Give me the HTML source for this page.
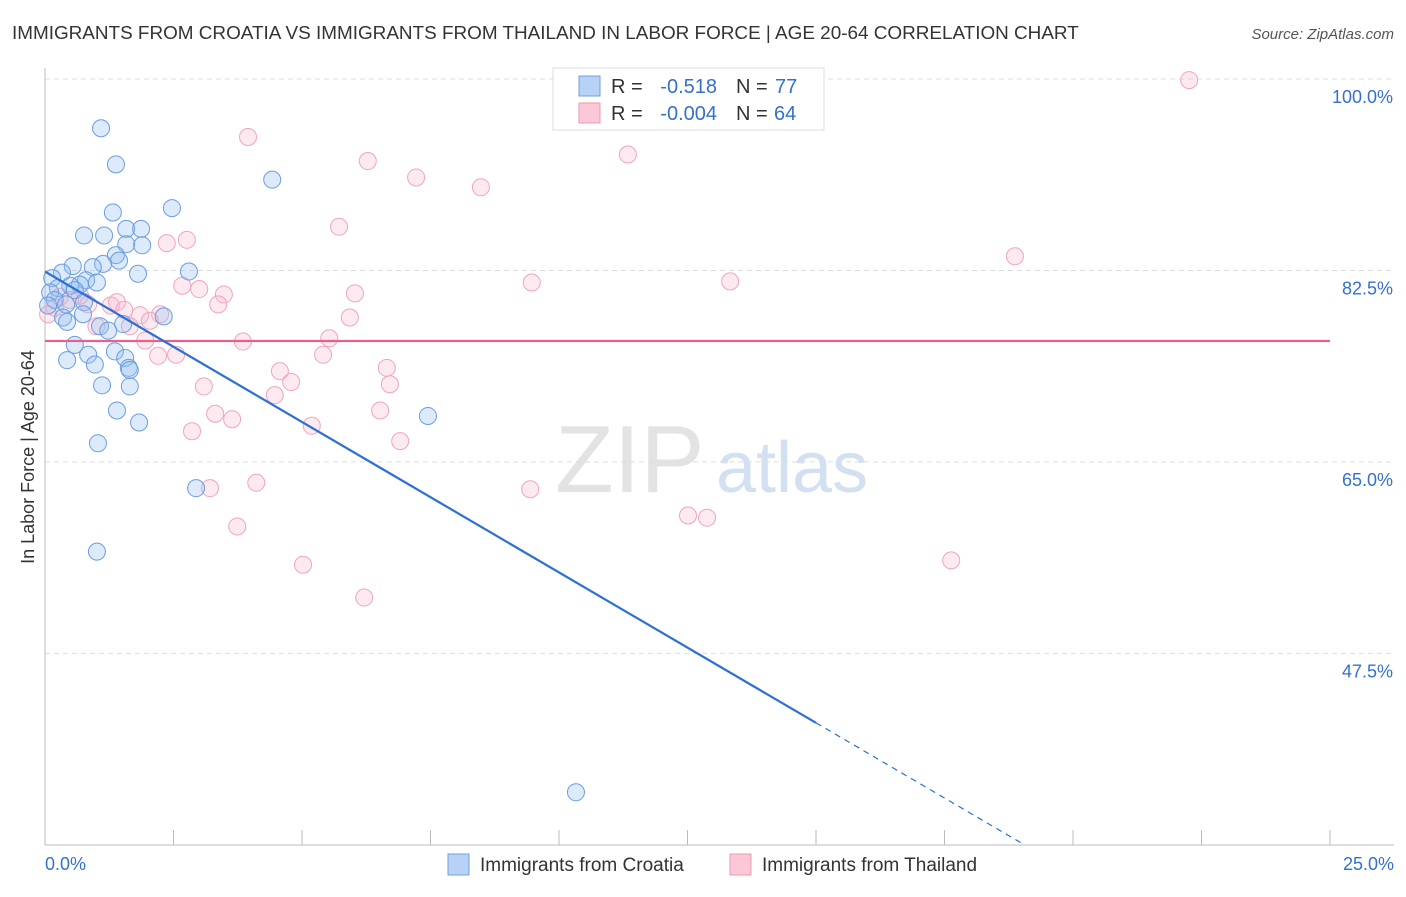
<!DOCTYPE html>
<html><head><meta charset="utf-8"><style>
body{margin:0;background:#fff;font-family:"Liberation Sans",sans-serif}
svg text{font-family:"Liberation Sans",sans-serif}
</style></head><body>
<svg id="chart" width="1406" height="892" xmlns="http://www.w3.org/2000/svg">
<text x="12" y="39" font-size="18.9" fill="#333">IMMIGRANTS FROM CROATIA VS IMMIGRANTS FROM THAILAND IN LABOR FORCE | AGE 20-64 CORRELATION CHART</text>
<text x="1394" y="39" font-size="15" fill="#555" font-style="italic" text-anchor="end">Source: ZipAtlas.com</text>
<text x="555" y="492" font-size="96" fill="#ddd" font-family="Liberation Serif" opacity="0.8">ZIP</text>
<text x="716" y="492" font-size="72" fill="#c9d9ef" opacity="0.8">atlas</text>
<g id="grid"></g>
<g id="axes"></g>
<g id="points"></g>
<g id="trend"></g>
<text transform="translate(34,457) rotate(-90)" font-size="18" fill="#333" text-anchor="middle">In Labor Force | Age 20-64</text>
<g>
<rect x="553" y="68" width="271" height="62" fill="#fff" stroke="#ddd"/>
<rect x="579" y="76" width="21" height="20" fill="#b8d2f5" stroke="#6f9fe0"/>
<rect x="579" y="103" width="21" height="20" fill="#fac8d6" stroke="#ec9ab2"/>
<text x="611" y="93" font-size="20" fill="#333">R = </text><text x="717" y="93" font-size="20" fill="#3470d0" text-anchor="end">-0.518</text>
<text x="736" y="93" font-size="20" fill="#333">N = </text><text x="775" y="93" font-size="20" fill="#3470d0">77</text>
<text x="611" y="120" font-size="20" fill="#333">R = </text><text x="717" y="120" font-size="20" fill="#3470d0" text-anchor="end">-0.004</text>
<text x="736" y="120" font-size="20" fill="#333">N = </text><text x="774" y="120" font-size="20" fill="#3470d0">64</text>
</g>
<g>
<rect x="448" y="854" width="21" height="21" fill="#b8d2f5" stroke="#6f9fe0"/>
<text x="480" y="871" font-size="19" fill="#333">Immigrants from Croatia</text></g>
<g>
<rect x="730" y="854" width="21" height="21" fill="#fac8d6" stroke="#ec9ab2"/>
<text x="762" y="871" font-size="19" fill="#333">Immigrants from Thailand</text></g>
</svg>
<script>
const yTicks=[100,82.5,65,47.5];
const yTickLabels=["100.0%","82.5%","65.0%","47.5%"];
const xTickLabels=["0.0%","25.0%"];
const croatiaX=[1.09,1.38,4.42,2.47,1.32,0.76,1.15,1.58,1.87,1.58,1.89,1.38,1.44,1.13,0.93,2.80,1.81,0.54,0.33,0.14,0.80,1.01,0.68,0.49,0.25,0.10,0.19,0.06,0.41,0.58,0.76,0.35,0.43,0.74,1.07,1.23,1.52,2.31,0.58,1.36,0.84,0.43,1.56,0.97,1.63,1.65,1.11,1.65,1.40,1.83,7.45,1.03,2.94,1.01,10.33];
const croatiaY=[95.5,92.2,90.8,88.2,87.8,85.7,85.7,86.3,86.3,84.9,84.8,83.9,83.4,83.1,82.8,82.4,82.2,82.9,82.3,81.8,81.6,81.4,81.2,81.1,80.9,80.5,79.8,79.3,79.4,80.7,79.6,78.2,77.8,78.5,77.4,77.0,77.6,78.3,75.7,75.1,74.8,74.3,74.5,73.9,73.6,73.4,72.0,71.9,69.7,68.6,69.2,66.7,62.6,56.8,34.8];
const thaiX=[22.26,3.95,6.28,11.34,7.22,8.48,5.72,2.76,2.37,18.87,9.47,13.33,2.67,3.00,3.48,6.03,3.37,5.93,1.40,1.28,1.54,1.85,2.24,2.04,1.65,1.00,0.29,0.49,0.68,0.19,0.06,0.84,1.95,3.85,5.53,2.20,2.55,5.41,6.65,4.57,4.79,3.09,6.71,4.47,6.52,3.31,3.64,5.19,2.86,6.91,3.21,4.11,9.44,12.51,12.88,3.74,17.63,5.02,6.21];
const thaiY=[99.9,94.7,92.5,93.1,91.0,90.1,86.5,85.3,85.0,83.8,81.4,81.5,81.1,80.8,80.3,80.4,79.4,78.2,79.6,79.3,78.9,78.4,78.5,77.9,77.4,77.4,80.1,79.8,80.2,79.1,78.5,79.4,76.1,76.0,76.3,74.7,74.8,74.8,73.6,73.3,72.3,71.9,72.1,71.1,69.7,69.4,68.9,68.3,67.8,66.9,62.6,63.1,62.5,60.1,59.9,59.1,56.0,55.6,52.6];
const croatiaTrend=[82.4,-2.75];
const thaiTrend=[76.05,0];
const NS="http://www.w3.org/2000/svg";
const X=v=>45+v*51.4, Y=v=>79+(100-v)*10.94;
function mk(parent,tag,attrs){const e=document.createElementNS(NS,tag);for(const k in attrs)e.setAttribute(k,attrs[k]);document.getElementById(parent).appendChild(e);return e;}
yTicks.forEach((t,i)=>{
 let l=mk('grid','line',{x1:45,x2:1394,y1:Y(t),y2:Y(t),stroke:'#ddd','stroke-dasharray':'5,4'});
 
 
 let tx=mk('grid','text',{x:1393,y:Y(t)+24,'font-size':18,fill:'#3470d0','text-anchor':'end'});tx.textContent=yTickLabels[i];
 
 
});
let ax=mk('axes','line',{x1:45,x2:45,y1:68,y2:845,stroke:'#bbb'});


let bx=mk('axes','line',{x1:45,x2:1394,y1:845,y2:845,stroke:'#bbb'});


for(let i=1;i<=10;i++){let t=mk('axes','line',{x1:X(i*2.5),x2:X(i*2.5),y1:830,y2:845,stroke:'#bbb'});
 
 }
[[0,'start',45],[25,'end',1394]].forEach((d,i)=>{let t=mk('axes','text',{x:d[2],y:870,'font-size':18,fill:'#3470d0','text-anchor':d[1]});t.textContent=xTickLabels[i];
 
 });
thaiX.forEach((v,i)=>{let c=mk('points','circle',{cx:X(v),cy:Y(thaiY[i]),r:8.5,fill:'rgba(248,185,205,0.3)',stroke:'#f0a5bd','stroke-width':1});
 
 });
croatiaX.forEach((v,i)=>{let c=mk('points','circle',{cx:X(v),cy:Y(croatiaY[i]),r:8.5,fill:'rgba(150,190,240,0.33)',stroke:'#6b9de3','stroke-width':1});
 
 });
const f=(t,x)=>t[0]+t[1]*x;
let pl=mk('trend','line',{x1:X(0),y1:Y(f(thaiTrend,0)),x2:X(25),y2:Y(f(thaiTrend,25)),stroke:'#e8608f','stroke-width':2.2});


let bl=mk('trend','line',{x1:X(0),y1:Y(f(croatiaTrend,0)),x2:X(15),y2:Y(f(croatiaTrend,15)),stroke:'#2c6fd6','stroke-width':2.2});


let xe=(30-croatiaTrend[0])/croatiaTrend[1];
let bd=mk('trend','line',{x1:X(15),y1:Y(f(croatiaTrend,15)),x2:X(xe),y2:Y(30),stroke:'#2c6fd6','stroke-width':1.2,'stroke-dasharray':'6,5'});


</script>
</body></html>
